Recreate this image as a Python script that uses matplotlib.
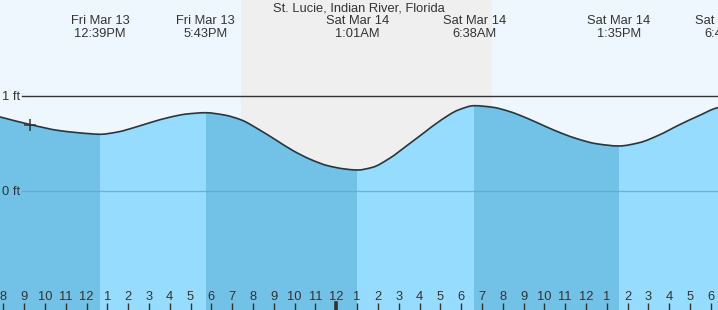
import matplotlib
matplotlib.use("Agg")
import matplotlib.pyplot as plt
import matplotlib.transforms as mtransforms
from matplotlib.path import Path
from matplotlib.patches import PathPatch
import numpy as np

plt.rcParams['font.family'] = ['Liberation Sans', 'DejaVu Sans']

# ---- data (hours since Fri Mar 13 00:00, heights in ft) ----
curve_t = [7.84, 9.28, 10.72, 12.17, 12.65, 13.49, 14.32, 15.15, 15.97, 16.80,
           17.717, 18.62, 19.45, 20.27, 21.10, 21.93, 22.76, 23.58, 24.41, 25.017,
           25.74, 26.56, 27.39, 28.22, 29.04, 29.87, 30.633, 31.53, 32.35, 33.18,
           34.01, 34.84, 35.66, 36.49, 37.583, 38.55, 39.51, 40.47, 41.43, 42.34,
           42.767]
curve_h = [0.78, 0.70, 0.635, 0.603, 0.597, 0.621, 0.670, 0.726, 0.775, 0.810,
           0.824, 0.800, 0.747, 0.649, 0.537, 0.424, 0.333, 0.267, 0.232, 0.221,
           0.249, 0.344, 0.477, 0.614, 0.747, 0.853, 0.898, 0.881, 0.835, 0.765,
           0.684, 0.607, 0.544, 0.498, 0.474, 0.508, 0.589, 0.695, 0.793, 0.877,
           0.89]

extreme_t = [12.65, 17.717, 25.017, 30.633, 37.583, 42.767]
extreme_day = ["Fri Mar 13", "Fri Mar 13", "Sat Mar 14", "Sat Mar 14", "Sat Mar 14", "Sat Mar 14"]
extreme_time = ["12:39PM", "5:43PM", "1:01AM", "6:38AM", "1:35PM", "6:46PM"]

sunset_t = 19.42
sunrise_t = 31.48

now_t, now_h = 9.28, 0.70

tick_hours = list(range(8, 43))
tick_labels = [str((h - 1) % 12 + 1) for h in tick_hours]

title = "St. Lucie, Indian River, Florida"
level_labels = [(1, "1 ft"), (0, "0 ft")]

# ---- figure ----
W, H = 718, 310
fig = plt.figure(figsize=(W / 100, H / 100), dpi=100)
ax = fig.add_axes([0, 0, 1, 1])
px_per_h = 20.81
x0_t = 8 - 3.3 / px_per_h
x1_t = 8 + (W - 3.3) / px_per_h
ax.set_xlim(x0_t, x1_t)
y_top = (191 - 0) / 95
y_bot = (191 - H) / 95
ax.set_ylim(y_bot, y_top)
for s in ax.spines.values():
    s.set_visible(False)

sky = '#eef7fe'
night = '#efefef'
dark = '#72c1e6'
light = '#96dcfe'
ink = '#333333'
fs = 9.3
dy = 1.3  # px nudge so glyphs sit like the reference

ax.axvspan(x0_t, x1_t, color=sky, zorder=0, lw=0)
ax.axvspan(sunset_t, sunrise_t, color=night, zorder=0.5, lw=0)

# smooth (monotone cubic) bezier path through the read points
ct = np.array(curve_t)
ch = np.array(curve_h)
d = np.diff(ch) / np.diff(ct)
m = np.zeros_like(ch)
m[0], m[-1] = d[0], d[-1]
for i in range(1, len(ch) - 1):
    if d[i - 1] * d[i] > 0:
        w1 = 2 * (ct[i + 1] - ct[i]) + (ct[i] - ct[i - 1])
        w2 = (ct[i + 1] - ct[i]) + 2 * (ct[i] - ct[i - 1])
        m[i] = (w1 + w2) / (w1 / d[i - 1] + w2 / d[i])
    else:
        m[i] = 0.0
verts = [(ct[0], ch[0])]
codes = [Path.MOVETO]
for i in range(len(ct) - 1):
    dt = ct[i + 1] - ct[i]
    verts += [(ct[i] + dt / 3, ch[i] + m[i] * dt / 3),
              (ct[i + 1] - dt / 3, ch[i + 1] - m[i + 1] * dt / 3),
              (ct[i + 1], ch[i + 1])]
    codes += [Path.CURVE4] * 3
line_path = Path(verts, codes)

water_verts = verts + [(ct[-1] + 1, ch[-1]), (ct[-1] + 1, y_bot - 1),
                       (ct[0] - 1, y_bot - 1), (ct[0] - 1, ch[0]), (ct[0], ch[0])]
water_codes = codes + [Path.LINETO] * 4 + [Path.CLOSEPOLY]
water = PathPatch(Path(water_verts, water_codes), facecolor='none',
                  edgecolor='none', transform=ax.transData)
ax.add_patch(water)

bounds = [x0_t - 1] + list(extreme_t) + [x1_t + 1]
for i in range(len(bounds) - 1):
    # before first extreme (a low) the tide is falling
    col = dark if i % 2 == 0 else light
    span = ax.axvspan(bounds[i], bounds[i + 1], color=col, lw=0, zorder=1)
    span.set_clip_path(water)

ax.add_patch(PathPatch(line_path, facecolor='none', edgecolor=ink, lw=1.2,
                       zorder=3))

# level lines
xfrac = 22 / W
ax.axhline(1, xmin=xfrac, xmax=1, color=ink, lw=1.0, zorder=2)
ax.axhline(0, xmin=xfrac, xmax=1, color='#5fa9cf', lw=1.0, zorder=2, alpha=0.8)
for v, lab in level_labels:
    ax.text(x0_t + 2 / px_per_h, v - dy / 95, lab, ha='left', va='center',
            fontsize=fs, color=ink, zorder=4)

ax.plot([now_t], [now_h], marker='+', ms=8, mew=1.1, color=ink, zorder=4)

# bottom ticks
ax.set_xticks(tick_hours)
ax.tick_params(axis='x', direction='in', length=5.3, width=1, color=ink,
               labelbottom=False, bottom=True)
ax.set_yticks([])
ax.axvline(24, ymin=0, ymax=7.5 / H, color=ink, lw=2.6, zorder=4)
trans = mtransforms.blended_transform_factory(ax.transData, ax.transAxes)
for h, lab in zip(tick_hours, tick_labels):
    ax.text(h, 1 - (296 + dy) / H, lab, transform=trans, ha='center',
            va='center', fontsize=fs, color=ink, zorder=4)

# top labels
ax.text(0.5 * (x0_t + x1_t), 1 - (7.5 + dy) / H, title, transform=trans,
        ha='center', va='center', fontsize=fs, color=ink, zorder=4)
for t, dday, tm in zip(extreme_t, extreme_day, extreme_time):
    ax.text(t, 1 - (19.5 + dy) / H, dday, transform=trans, ha='center',
            va='center', fontsize=fs, color=ink, zorder=4)
    ax.text(t, 1 - (32.3 + dy) / H, tm, transform=trans, ha='center',
            va='center', fontsize=fs, color=ink, zorder=4)

fig.savefig('out.png', dpi=100)
